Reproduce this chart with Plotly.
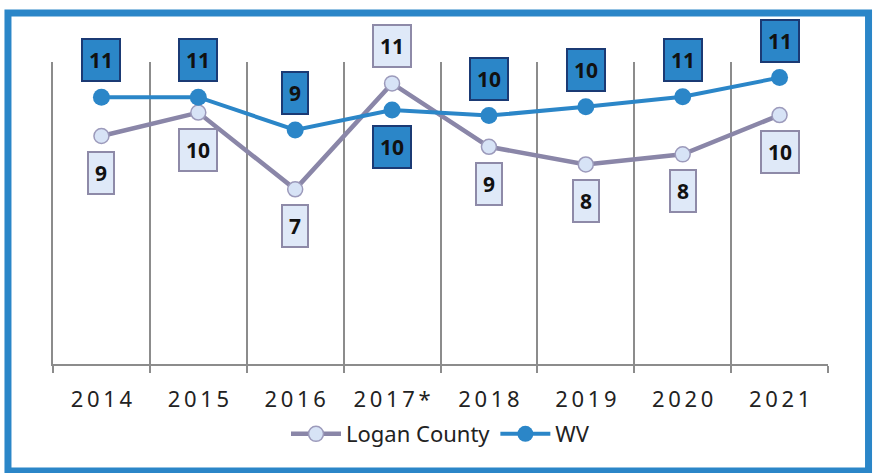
import plotly.graph_objects as go

years = ["2014", "2015", "2016", "2017*", "2018", "2019", "2020", "2021"]
logan = [9.06, 9.99, 6.94, 11.15, 8.63, 7.93, 8.33, 9.89]
wv = [10.6, 10.6, 9.30, 10.09, 9.87, 10.22, 10.62, 11.38]
# label placement: +1 above point, -1 below
logan_pos = [-1, -1, -1, 1, -1, -1, -1, -1]
wv_pos = [1, 1, 1, -1, 1, 1, 1, 1]

tick_text = ["\u2009".join(list(y)) for y in years]

BLUE = "#2b86c8"
LOGAN_LINE = "#8a86a8"
GRID = "#8c8c8c"
FONT = "Noto Sans"

fig = go.Figure()
fig.add_trace(go.Scatter(
    x=years, y=logan, name="Logan County", mode="lines+markers",
    line=dict(color=LOGAN_LINE, width=4.5),
    marker=dict(size=15, color="#d7e3f6", line=dict(color="#9c9abb", width=1.5)),
))
fig.add_trace(go.Scatter(
    x=years, y=wv, name="WV", mode="lines+markers",
    line=dict(color=BLUE, width=4),
    marker=dict(size=17, color=BLUE),
))

annotations = []
for i, (v, p) in enumerate(zip(logan, logan_pos)):
    annotations.append(dict(
        x=i, y=v, xref="x", yref="y", text=f"<b>{round(v):d}</b>", showarrow=False,
        yshift=37 * p, font=dict(family=FONT, size=21, color="#111"),
        bgcolor="#dfe9f8", bordercolor="#8e8aa8", borderwidth=2, borderpad=6,
    ))
for i, (v, p) in enumerate(zip(wv, wv_pos)):
    annotations.append(dict(
        x=i, y=v, xref="x", yref="y", text=f"<b>{round(v):d}</b>", showarrow=False,
        yshift=37 * p, font=dict(family=FONT, size=21, color="#111"),
        bgcolor=BLUE, bordercolor="#1b3a74", borderwidth=2, borderpad=6,
    ))

fig.update_layout(
    width=875, height=473,
    margin=dict(l=53, r=47, t=62, b=109),
    paper_bgcolor="white", plot_bgcolor="white",
    font=dict(family=FONT, size=20, color="#222"),
    showlegend=True,
    legend=dict(orientation="h", x=0.5, xanchor="center", y=-0.232, yanchor="middle",
                itemwidth=50, font=dict(size=22, color="#222"), bgcolor="rgba(0,0,0,0)"),
    annotations=annotations,
    shapes=[dict(type="rect", xref="paper", yref="paper",
                 x0=-0.0581, x1=1.0523, y0=-0.3543, y1=1.1623,
                 line=dict(color=BLUE, width=7), fillcolor="rgba(0,0,0,0)", layer="below")],
)
fig.update_xaxes(
    type="category", range=[-0.5, 7.5], tickson="boundaries",
    tickvals=years, ticktext=tick_text,
    showgrid=True, gridcolor=GRID, gridwidth=2,
    showline=True, linecolor=GRID, linewidth=2,
    ticks="outside", ticklen=7, tickwidth=2, tickcolor=GRID,
    ticklabelstandoff=15, tickfont=dict(size=22, color="#222"),
    zeroline=False,
)
fig.update_yaxes(range=[0, 12], showgrid=False, showticklabels=False, zeroline=False,
                 showline=True, linecolor=GRID, linewidth=2, ticks="")

fig.write_html("out.html", config={"displayModeBar": False},
               post_script="document.body.style.margin='0';")
